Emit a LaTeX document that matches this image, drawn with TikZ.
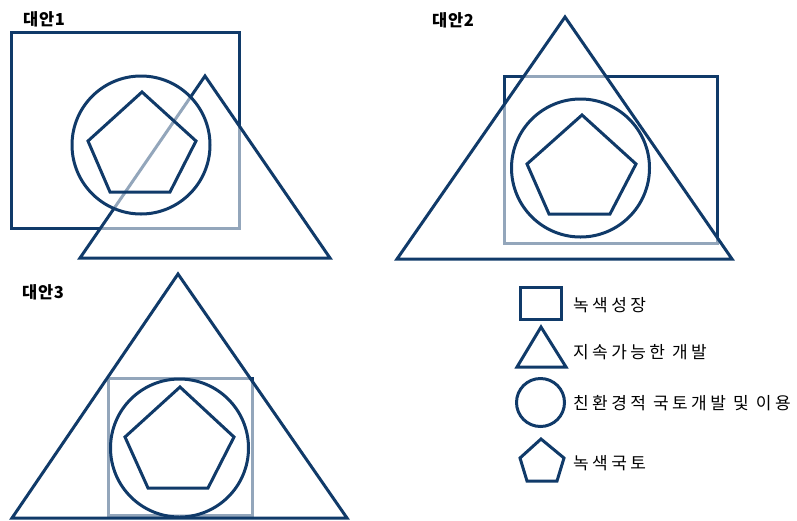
\documentclass[tikz,border=0pt]{standalone}
\usepackage{fontspec}
\newfontfamily\kr[LetterSpace=4]{Noto Sans CJK KR}
\newfontfamily\krleg[LetterSpace=20]{Noto Sans CJK KR}
\definecolor{navy}{RGB}{16,58,105}
\tikzset{
  shapeline/.style={draw=navy, line width=3pt, line join=miter},
  veil/.style={shapeline, fill=white, fill opacity=0.55},
  paneltitle/.style={font=\kr\bfseries\fontsize{16.5}{16.5}\selectfont, anchor=west, inner sep=0pt},
  legtext/.style={font=\krleg\fontsize{17}{17}\selectfont, anchor=west, inner sep=0pt},
}
\begin{document}
\begin{tikzpicture}[x=1pt,y=-1pt]
\useasboundingbox (0,0) rectangle (797,520);
% Panel 1
\draw[shapeline] (11,32) rectangle (239,228);
\draw[veil] (205,76) -- (80,258) -- (330,258) -- cycle;
\draw[veil] (141,145) circle (69pt);
\draw[shapeline] (142,92) -- (196,141) -- (170,192) -- (110,192) -- (88,141) -- cycle;
\node[paneltitle] (l1) at (23,19) {대안1};
% Panel 2
\draw[shapeline] (504,76) rectangle (717,243);
\draw[veil] (565,17) -- (397,259) -- (732,259) -- cycle;
\draw[veil] (580.5,168) circle (69pt);
\draw[shapeline] (582,115) -- (636,164) -- (610,214) -- (549,214) -- (527,164) -- cycle;
\node[paneltitle] (l2) at (432,20) {대안2};
% Panel 3
\draw[shapeline] (108,378) rectangle (252,515);
\draw[veil] (178,274) -- (12,518) -- (347,518) -- cycle;
\draw[veil] (179.5,448) circle (69pt);
\draw[shapeline] (180,387) -- (234,437) -- (208,488) -- (148,488) -- (125,437) -- cycle;
\node[paneltitle] (l3) at (22,292) {대안3};
% Legend
\draw[shapeline] (520,287) rectangle (561,319);
\draw[shapeline] (541,327) -- (517,367) -- (566,367) -- cycle;
\draw[shapeline] (540.5,402.5) circle (24pt);
\draw[shapeline] (541,439) -- (564,458) -- (557,481) -- (527,481) -- (520,458) -- cycle;
\node[legtext] (t1) at (573,305) {녹색성장};
\node[legtext] (t2) at (573,352) {지속가능한 개발};
\node[legtext] (t3) at (573,403) {친환경적 국토개발 및 이용};
\node[legtext] (t4) at (573,463) {녹색국토};
\end{tikzpicture}
\end{document}
